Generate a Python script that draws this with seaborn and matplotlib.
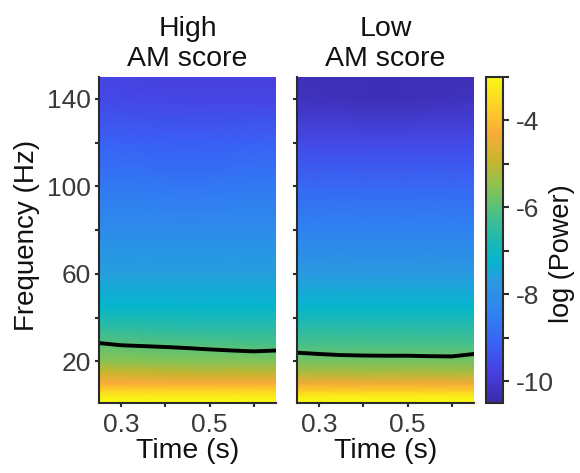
import numpy as np
import matplotlib
matplotlib.use("Agg")
import matplotlib.pyplot as plt
from matplotlib.colors import LinearSegmentedColormap
import seaborn as sns

sns.set_theme(style="white")
plt.rcParams['font.family'] = ['Liberation Sans', 'DejaVu Sans']

titles = ["High\nAM score", "Low\nAM score"]
times = [0.25, 0.45, 0.65]
freqs = [1, 4, 7, 10, 15, 20, 28, 35, 45, 60, 80, 100, 120, 140, 150]

high_early = [-3.0, -3.2, -3.7, -4.3, -4.9, -5.5, -6.0, -6.5, -7.2, -7.6, -8.1, -8.6, -9.1, -9.6, -9.7]
high_mid   = [-3.0, -3.2, -3.7, -4.3, -5.0, -5.6, -6.1, -6.6, -7.2, -7.6, -8.1, -8.7, -9.2, -9.7, -9.8]
high_late  = [-3.0, -3.2, -3.7, -4.3, -5.0, -5.6, -6.2, -6.6, -7.2, -7.6, -8.1, -8.6, -9.1, -9.7, -9.8]
low_early  = [-3.0, -3.2, -3.8, -4.4, -5.2, -5.7, -6.2, -6.6, -7.2, -7.7, -8.4, -9.0, -9.6, -10.2, -10.3]
low_mid    = [-3.0, -3.2, -3.8, -4.4, -5.2, -5.7, -6.2, -6.6, -7.2, -7.7, -8.4, -9.0, -9.6, -10.3, -10.3]
low_late   = [-3.0, -3.2, -3.8, -4.4, -5.2, -5.7, -6.2, -6.6, -7.2, -7.7, -8.4, -9.0, -9.6, -10.2, -10.3]

line_times = [0.25, 0.30, 0.35, 0.40, 0.45, 0.50, 0.55, 0.60, 0.65]
high_line = [28.4, 27.4, 27.0, 26.6, 26.1, 25.5, 25.0, 24.6, 25.0]
low_line  = [24.0, 23.4, 22.9, 22.7, 22.6, 22.6, 22.4, 22.3, 23.4]

cbar_stops = [-10.5, -9.8, -9.2, -8.5, -7.7, -7.2, -6.8, -6.2, -5.5, -4.9, -4.3, -3.6, -3.0]
cbar_colors = ["#3b2aa8", "#4840e0", "#3a5ef5", "#2f80f2", "#2a9ae0", "#05b6cc", "#1cb8b4",
               "#45c08a", "#8cc350", "#c9b52c", "#f9ab38", "#fdd525", "#f8f813"]
vmin, vmax = -10.5, -3.0
parula = LinearSegmentedColormap.from_list(
    "parula_like", [((s - vmin) / (vmax - vmin), c) for s, c in zip(cbar_stops, cbar_colors)], N=256)

W, H = 580, 473
fig = plt.figure(figsize=(W / 100, H / 100), dpi=100)
def box(x0, x1, y0, y1):
    return [x0 / W, 1 - y1 / H, (x1 - x0) / W, (y1 - y0) / H]
ax1 = fig.add_axes(box(99, 276, 77, 403))
ax2 = fig.add_axes(box(297, 474, 77, 403))
cax = fig.add_axes(box(486, 503, 77, 403))

edge = "#2b2b2b"
tick_color = "#3a3a3a"
tick_size = 19
label_size = 20.5
panels = [(ax1, [high_early, high_mid, high_late], high_line, titles[0]),
          (ax2, [low_early, low_mid, low_late], low_line, titles[1])]
for ax, cols, line, title in panels:
    Z = np.array(cols).T
    mesh = ax.pcolormesh(times, freqs, Z, shading="gouraud", cmap=parula, vmin=vmin, vmax=vmax, rasterized=True)
    sns.lineplot(x=line_times, y=line, ax=ax, color="black", linewidth=2.8, errorbar=None)
    ax.set_xlim(0.25, 0.65)
    ax.set_ylim(1, 150)
    ax.set_xticks([0.3, 0.4, 0.5, 0.6])
    ax.set_xticklabels(["0.3", "", "0.5", ""])
    ax.set_yticks([20, 40, 60, 80, 100, 120, 140])
    ax.set_yticklabels(["20", "", "60", "", "100", "", "140"])
    ax.tick_params(axis="both", direction="out", length=3, width=1.5, color=edge,
                   labelsize=tick_size, labelcolor=tick_color, pad=3, bottom=True, left=True)
    ax.tick_params(axis="x", pad=4)
    for s in ["top", "right"]:
        ax.spines[s].set_visible(False)
    for s in ["left", "bottom"]:
        ax.spines[s].set_color(edge)
        ax.spines[s].set_linewidth(1.5)
    ax.set_xlabel("Time (s)", fontsize=label_size, color="#111111", labelpad=1)
    ax.set_title(title, fontsize=label_size, color="#111111", pad=8, linespacing=1.2)

ax1.set_ylabel("Frequency (Hz)", fontsize=20, color="#111111", labelpad=5, y=0.515)
ax2.tick_params(axis="y", labelleft=False)

cb = fig.colorbar(mesh, cax=cax)
cb.set_ticks([-10, -9, -8, -7, -6, -5, -4, -3])
cb.set_ticklabels(["-10", "", "-8", "", "-6", "", "-4", ""])
cax.tick_params(axis="y", direction="out", right=True, length=4, width=1.5, color=edge,
                labelsize=tick_size, labelcolor=tick_color, pad=5)
cb.outline.set_edgecolor(edge)
cb.outline.set_linewidth(1.5)
cb.set_label("log (Power)", fontsize=19.5, color="#111111", labelpad=-3, y=0.457)

fig.savefig("out.png", dpi=100, facecolor="white")
